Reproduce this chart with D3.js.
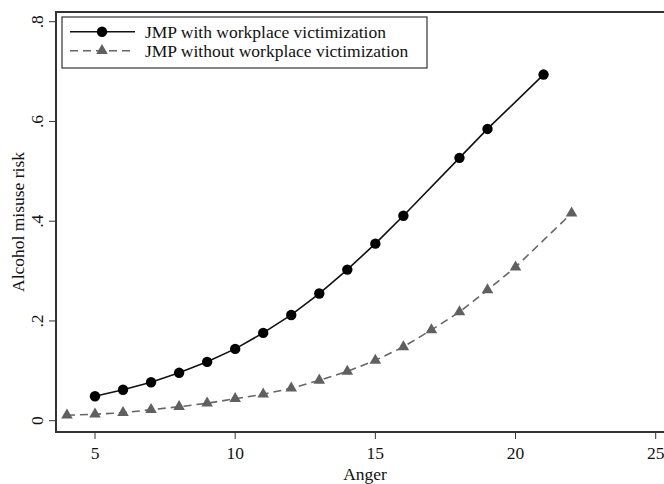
<!DOCTYPE html>
<html>
  <head>
    <style>
      body { margin: 0; background: #fff; }
      svg { display: block; font-family: "Liberation Serif", "Times New Roman", serif; }
      .tick-label { font-size: 17.5px; fill: #111; }
      .axis-title { font-size: 17.5px; fill: #111; text-anchor: middle; }
      .legend-text { font-size: 17.5px; fill: #111; }
    </style>
  </head>
  <body>
    <script src="https://d3js.org/d3.v7.min.js"></script>
    <script>
      // series with workplace victimization
      const withX = [5, 6, 7, 8, 9, 10, 11, 12, 13, 14, 15, 16, 18, 19, 21];
      const withY = [0.049, 0.062, 0.077, 0.096, 0.118, 0.144, 0.176, 0.212, 0.255, 0.303, 0.355, 0.411, 0.527, 0.585, 0.694];
      // series without workplace victimization
      const withoutX = [4, 5, 6, 7, 8, 9, 10, 11, 12, 13, 14, 15, 16, 17, 18, 19, 20, 22];
      const withoutY = [0.011, 0.013, 0.016, 0.022, 0.028, 0.035, 0.044, 0.053, 0.065, 0.081, 0.099, 0.121, 0.148, 0.182, 0.218, 0.262, 0.308, 0.416];

      const xTicks = [5, 10, 15, 20, 25];
      const yTicks = [0, 0.2, 0.4, 0.6, 0.8];
      const yTickLabels = ['0', '.2', '.4', '.6', '.8'];
      const seriesNames = ['JMP with workplace victimization', 'JMP without workplace victimization'];

      const width = 664, height = 484;
      const plot = { left: 56, top: 12, right: 674, bottom: 432 };

      const x = d3.scaleLinear().domain([5, 25]).range([95, 655.7]);
      const y = d3.scaleLinear().domain([0, 0.8]).range([420.7, 21.7]);

      const svg = d3.select('body').append('svg')
        .attr('width', width)
        .attr('height', height);

      // plot region frame
      svg.append('rect')
        .attr('x', plot.left)
        .attr('y', plot.top)
        .attr('width', plot.right - plot.left)
        .attr('height', plot.bottom - plot.top)
        .attr('fill', 'none')
        .attr('stroke', '#333')
        .attr('stroke-width', 2);

      // x axis ticks
      const xAxis = svg.append('g');
      xAxis.selectAll('line')
        .data(xTicks)
        .join('line')
        .attr('x1', d => x(d)).attr('x2', d => x(d))
        .attr('y1', plot.bottom).attr('y2', plot.bottom + 7)
        .attr('stroke', '#333').attr('stroke-width', 1);
      xAxis.selectAll('text')
        .data(xTicks)
        .join('text')
        .attr('class', 'tick-label')
        .attr('x', d => x(d))
        .attr('y', plot.bottom + 27)
        .attr('text-anchor', 'middle')
        .text(d => d);

      // y axis ticks (rotated labels)
      const yAxis = svg.append('g');
      yAxis.selectAll('line')
        .data(yTicks)
        .join('line')
        .attr('x1', plot.left - 7).attr('x2', plot.left)
        .attr('y1', d => y(d)).attr('y2', d => y(d))
        .attr('stroke', '#333').attr('stroke-width', 1);
      yAxis.selectAll('text')
        .data(yTicks)
        .join('text')
        .attr('class', 'tick-label')
        .attr('text-anchor', 'middle')
        .attr('transform', d => `translate(${plot.left - 13},${y(d)}) rotate(-90)`)
        .text((d, i) => yTickLabels[i]);

      svg.append('text')
        .attr('class', 'axis-title')
        .attr('x', (plot.left + plot.right) / 2)
        .attr('y', 480)
        .text('Anger');

      svg.append('text')
        .attr('class', 'axis-title')
        .attr('transform', `translate(24,${(plot.top + plot.bottom) / 2}) rotate(-90)`)
        .text('Alcohol misuse risk');

      const line = d3.line().x(d => x(d[0])).y(d => y(d[1]));
      const withData = withX.map((v, i) => [v, withY[i]]);
      const withoutData = withoutX.map((v, i) => [v, withoutY[i]]);

      const triangle = d3.symbol().type(d3.symbolTriangle).size(58);

      // without series: dashed gray with triangles
      svg.append('path')
        .datum(withoutData)
        .attr('d', line)
        .attr('fill', 'none')
        .attr('stroke', '#666')
        .attr('stroke-width', 1.6)
        .attr('stroke-dasharray', '8,5');
      svg.append('g').selectAll('path')
        .data(withoutData)
        .join('path')
        .attr('d', triangle)
        .attr('transform', d => `translate(${x(d[0])},${y(d[1])})`)
        .attr('fill', '#606060');

      // with series: solid black with circles
      svg.append('path')
        .datum(withData)
        .attr('d', line)
        .attr('fill', 'none')
        .attr('stroke', '#111')
        .attr('stroke-width', 1.6);
      svg.append('g').selectAll('circle')
        .data(withData)
        .join('circle')
        .attr('cx', d => x(d[0]))
        .attr('cy', d => y(d[1]))
        .attr('r', 5.2)
        .attr('fill', '#000');

      // legend
      const legend = svg.append('g');
      legend.append('rect')
        .attr('x', 62).attr('y', 17)
        .attr('width', 365).attr('height', 51)
        .attr('fill', '#fff')
        .attr('stroke', '#333')
        .attr('stroke-width', 1.2);

      const rows = legend.selectAll('g.row')
        .data(seriesNames)
        .join('g')
        .attr('class', 'row')
        .attr('transform', (d, i) => `translate(0,${31.7 + i * 19})`);

      rows.append('line')
        .attr('x1', 70).attr('x2', 135)
        .attr('y1', 0).attr('y2', 0)
        .attr('stroke', (d, i) => i === 0 ? '#111' : '#666')
        .attr('stroke-width', 1.6)
        .attr('stroke-dasharray', (d, i) => i === 0 ? null : '8,5');
      rows.filter((d, i) => i === 0).append('circle')
        .attr('cx', 102).attr('cy', 0).attr('r', 5.2).attr('fill', '#000');
      rows.filter((d, i) => i === 1).append('path')
        .attr('d', triangle)
        .attr('transform', 'translate(102,0)')
        .attr('fill', '#606060');
      rows.append('text')
        .attr('class', 'legend-text')
        .attr('x', 145)
        .attr('y', 6)
        .text(d => d);
    </script>
  </body>
</html>
